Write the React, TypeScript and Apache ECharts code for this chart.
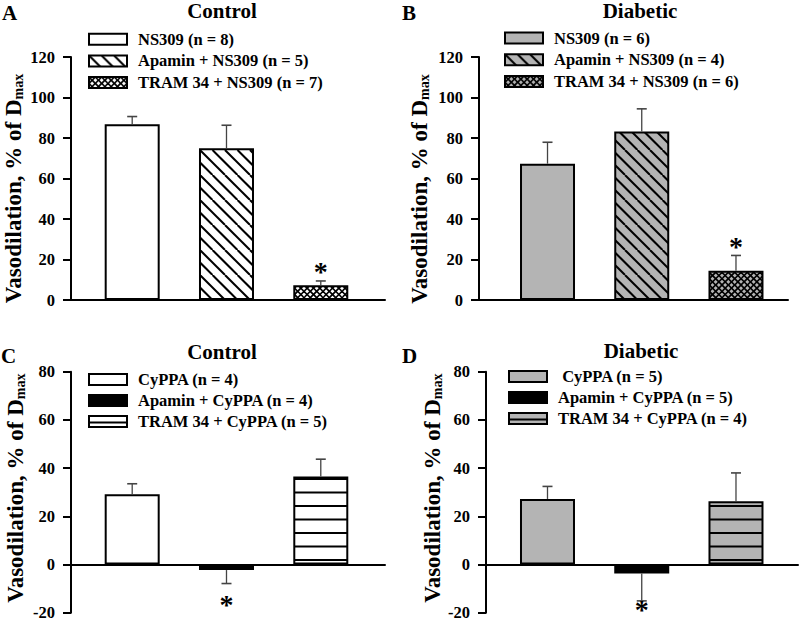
import React, { useEffect, useRef } from 'react';
import * as echarts from 'echarts';

const FONT = '"Liberation Serif", "Times New Roman", serif';

// x positions of the three bars in each panel
const positions = [1, 2, 3];

// Panel A – Control, NS309
const aNames = ['NS309 (n = 8)', 'Apamin + NS309 (n = 5)', 'TRAM 34 + NS309 (n = 7)'];
const aMeans = [86.8, 75.0, 7.3];
const aErrs = [90.6, 86.3, 9.4];
const aSig = [false, false, true];

// Panel B – Diabetic, NS309
const bNames = ['NS309 (n = 6)', 'Apamin + NS309 (n = 4)', 'TRAM 34 + NS309 (n = 6)'];
const bMeans = [67.3, 83.2, 14.5];
const bErrs = [77.9, 94.4, 22.0];
const bSig = [false, false, true];

// Panel C – Control, CyPPA
const cNames = ['CyPPA (n = 4)', 'Apamin + CyPPA (n = 4)', 'TRAM 34 + CyPPA (n = 5)'];
const cMeans = [29.2, -2.3, 36.5];
const cErrs = [33.5, -7.9, 43.7];
const cSig = [false, true, false];

// Panel D – Diabetic, CyPPA
const dNames = [' CyPPA (n = 5)', 'Apamin + CyPPA (n = 5)', 'TRAM 34 + CyPPA (n = 4)'];
const dMeans = [27.2, -3.7, 26.2];
const dErrs = [32.4, -15.1, 38.0];
const dSig = [false, true, false];

// y axis ranges
const topRange = [0, 120];
const bottomRange = [-20, 80];
const yInterval = 20;

const titles = ['Control', 'Diabetic', 'Control', 'Diabetic'];
const letters = ['A', 'B', 'C', 'D'];

const GRAY = '#b4b4b4';

function makeCanvas(w: number, h: number, draw: (ctx: CanvasRenderingContext2D) => void) {
  const c = document.createElement('canvas');
  c.width = w;
  c.height = h;
  const ctx = c.getContext('2d')!;
  draw(ctx);
  return c;
}

function diagPattern(bg: string) {
  const T = 25;
  const c = makeCanvas(T, T, (ctx) => {
    ctx.fillStyle = bg;
    ctx.fillRect(0, 0, T, T);
    ctx.strokeStyle = '#000';
    ctx.lineWidth = 2;
    for (const o of [-25, -12.5, 0, 12.5, 25]) {
      ctx.beginPath();
      ctx.moveTo(o, 0);
      ctx.lineTo(o + T, T);
      ctx.stroke();
    }
  });
  return { image: c, repeat: 'repeat' };
}

function crossPattern(bg: string) {
  const T = 19;
  const p = T / 3;
  const c = makeCanvas(T, T, (ctx) => {
    ctx.fillStyle = bg;
    ctx.fillRect(0, 0, T, T);
    ctx.strokeStyle = '#000';
    ctx.lineWidth = 1.7;
    for (let k = -3; k <= 3; k++) {
      const o = k * p;
      ctx.beginPath();
      ctx.moveTo(o, 0);
      ctx.lineTo(o + T, T);
      ctx.stroke();
      ctx.beginPath();
      ctx.moveTo(o, T);
      ctx.lineTo(o + T, 0);
      ctx.stroke();
    }
  });
  return { image: c, repeat: 'repeat' };
}

function stripePattern(bg: string) {
  const c = makeCanvas(4, 27, (ctx) => {
    ctx.fillStyle = bg;
    ctx.fillRect(0, 0, 4, 27);
    ctx.fillStyle = '#000';
    ctx.fillRect(0, 5.5, 4, 2);
    ctx.fillRect(0, 19, 4, 2);
  });
  return { image: c, repeat: 'repeat' };
}

const errRender = (params: any, api: any) => {
  const x = api.value(0);
  const m = api.value(1);
  const e = api.value(2);
  const s = api.value(3);
  const p0 = api.coord([x, m]);
  const p1 = api.coord([x, e]);
  const children: any[] = [
    { type: 'line', shape: { x1: p0[0], y1: p0[1], x2: p1[0], y2: p1[1] }, style: { stroke: '#444', lineWidth: 1.3 } },
    { type: 'line', shape: { x1: p1[0] - 5, y1: p1[1], x2: p1[0] + 5, y2: p1[1] }, style: { stroke: '#444', lineWidth: 1.6 } },
  ];
  if (s) {
    const up = e >= m;
    const yy = up ? p1[1] - 9 : Math.min(p1[1] + 21, api.getHeight() - 12);
    children.push({
      type: 'text',
      style: {
        text: '*',
        x: p1[0],
        y: yy,
        font: `bold 28px ${FONT}`,
        lineHeight: 14,
        fill: '#000',
        align: 'center',
        verticalAlign: 'middle',
      },
    });
  }
  return { type: 'group', children };
};

export default function App() {
  const ref = useRef<HTMLDivElement>(null);

  useEffect(() => {
    if (!ref.current) return;
    const chart = echarts.init(ref.current, undefined, { renderer: 'svg' });

    const fills = [
      ['#fff', diagPattern('#fff'), crossPattern('#fff')],
      [GRAY, diagPattern(GRAY), crossPattern(GRAY)],
      ['#fff', '#000', stripePattern('#fff')],
      [GRAY, '#000', stripePattern(GRAY)],
    ];

    const panels = [
      { names: aNames, means: aMeans, errs: aErrs, sig: aSig, range: topRange },
      { names: bNames, means: bMeans, errs: bErrs, sig: bSig, range: topRange },
      { names: cNames, means: cMeans, errs: cErrs, sig: cSig, range: bottomRange },
      { names: dNames, means: dMeans, errs: dErrs, sig: dSig, range: bottomRange },
    ];

    const grids = [
      { left: 71, top: 57, width: 314, height: 243 },
      { left: 479, top: 57, width: 309, height: 243 },
      { left: 71, top: 371.7, width: 314, height: 241 },
      { left: 486, top: 371.7, width: 312, height: 241 },
    ];
    const xRanges = [
      [0.351, 3.681],
      [0.273, 3.552],
      [0.351, 3.681],
      [0.3475, 3.658],
    ];
    const nameGaps = [46, 48, 44, 42];
    const namePads = [
      [0, 20, 0, 0],
      [0, 21, 0, 0],
      [0, 0, 0, 8],
      [0, 0, 0, 8],
    ];
    const legendPos = [
      { left: 88, top: 30.7, gap: 4.7 },
      { left: 504, top: 29.5, gap: 4.7 },
      { left: 88, top: 371, gap: 4 },
      { left: 508, top: 368, gap: 4 },
    ];
    const titlePos = [
      { x: 222, y: 11, lx: 2, ly: 13.3 },
      { x: 640, y: 10.5, lx: 402, ly: 13.3 },
      { x: 222, y: 352, lx: 1, ly: 355.8 },
      { x: 641, y: 350.7, lx: 402, ly: 355.5 },
    ];

    const series: any[] = [];
    panels.forEach((p, i) => {
      p.names.forEach((n, k) => {
        series.push({
          type: 'bar',
          name: n,
          xAxisIndex: i,
          yAxisIndex: i,
          data: [[positions[k], p.means[k]]],
          barWidth: 55,
          barGap: '-100%',
          itemStyle: { color: fills[i][k], borderColor: '#000', borderWidth: 2 },
          z: 2,
        });
      });
      series.push({
        type: 'custom',
        name: 'err' + i,
        xAxisIndex: i,
        yAxisIndex: i,
        data: positions.map((x, k) => [x, p.means[k], p.errs[k], p.sig[k] ? 1 : 0]),
        renderItem: errRender,
        z: 5,
      });
    });

    const option: any = {
      animation: false,
      backgroundColor: '#fff',
      grid: grids.map((g) => ({ ...g, containLabel: false, outerBoundsMode: 'none' })),
      xAxis: panels.map((p, i) => ({
        type: 'value',
        gridIndex: i,
        min: xRanges[i][0],
        max: xRanges[i][1],
        axisLine: { show: true, onZero: true, lineStyle: { color: '#000', width: 2 } },
        axisTick: { show: false },
        axisLabel: { show: false },
        splitLine: { show: false },
      })),
      yAxis: panels.map((p, i) => ({
        type: 'value',
        gridIndex: i,
        min: p.range[0],
        max: p.range[1],
        interval: yInterval,
        axisLine: { show: true, onZero: false, lineStyle: { color: '#000', width: 2 } },
        axisTick: { show: true, length: 8, lineStyle: { color: '#000', width: 2 } },
        axisLabel: { fontFamily: FONT, fontWeight: 'bold', fontSize: 16.5, lineHeight: 12, color: '#000', margin: 16 },
        splitLine: { show: false },
        name: '{a|Vasodilation, % of D}{b|max}',
        nameLocation: 'middle',
        nameGap: nameGaps[i],
        nameTextStyle: {
          padding: namePads[i],
          rich: {
            a: { fontFamily: FONT, fontWeight: 'bold', fontSize: 23, color: '#000' },
            b: { fontFamily: FONT, fontWeight: 'bold', fontSize: 14, color: '#000', padding: [10, 0, 0, 0] },
          },
        },
      })),
      legend: panels.map((p, i) => ({
        data: p.names,
        orient: 'vertical',
        left: legendPos[i].left,
        top: legendPos[i].top,
        itemWidth: 38,
        itemHeight: 11,
        itemGap: legendPos[i].gap,
        padding: 0,
        icon: 'rect',
        selectedMode: false,
        textStyle: { fontFamily: FONT, fontWeight: 'bold', fontSize: 16.5, color: '#000', lineHeight: 16, padding: [0, 0, 0, 6] },
      })),
      graphic: titlePos.flatMap((t, i) => [
        {
          type: 'text',
          x: t.x,
          y: t.y,
          style: { text: titles[i], font: `bold 21px ${FONT}`, lineHeight: 20, fill: '#000', align: 'center', verticalAlign: 'middle' },
        },
        {
          type: 'text',
          x: t.lx,
          y: t.ly,
          style: { text: letters[i], font: `bold 21px ${FONT}`, lineHeight: 20, fill: '#000', align: 'left', verticalAlign: 'middle' },
        },
      ]),
      series,
    };

    chart.setOption(option);
    return () => chart.dispose();
  }, []);

  return <div ref={ref} style={{ position: 'fixed', left: 0, top: 0, width: 799, height: 621 }} />;
}
